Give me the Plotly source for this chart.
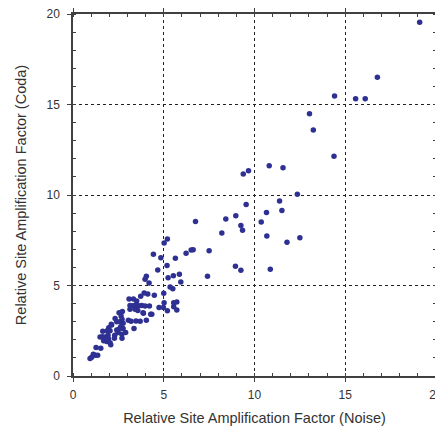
import plotly.graph_objects as go

noise = [19.1, 16.77, 14.41, 15.57, 16.1, 13.03, 13.24, 14.38, 10.81, 11.57, 12.36, 11.38, 10.66, 11.51, 10.37, 10.68, 12.5, 11.79, 10.87,
         9.38, 9.67, 9.54, 8.97, 8.42, 9.25, 9.34, 6.75, 8.2, 5.2, 5.02, 4.43, 4.84, 5.64, 6.23, 6.51, 6.62, 7.5, 5.18, 4.67, 8.95, 9.25, 7.41,
         4.04, 3.97, 4.19, 5.24, 5.53, 5.86, 5.94, 5.35, 5.5, 5.0, 4.48, 3.92, 4.12, 3.73,
         5.02, 5.55, 5.72, 4.74, 4.98, 5.2, 5.55, 5.72, 4.21, 3.79, 3.86, 4.28, 4.04, 3.09, 3.33, 3.51, 3.14, 3.31, 3.45, 3.62, 3.14, 3.42, 3.57,
         3.05, 3.2, 3.47, 3.7, 3.36, 2.72, 2.54, 2.65, 2.32, 2.7, 2.59, 2.76, 2.63, 2.76, 2.9, 2.54, 2.41, 2.69, 2.7, 2.48, 2.11, 1.97, 2.04,
         1.88, 1.64, 1.62, 1.78, 1.93, 2.3, 2.28, 1.69, 1.86, 2.04, 2.08, 1.95, 1.49, 1.27, 1.53, 1.12, 1.23, 1.03, 0.94, 1.36, 2.13, 2.41,
         4.34, 3.88, 3.97]
coda = [19.54, 16.5, 15.47, 15.32, 15.32, 14.49, 13.59, 12.14, 11.62, 11.51, 10.04, 9.67, 9.04, 9.15, 8.51, 7.73, 7.64, 7.39, 5.9,
        11.16, 11.34, 9.47, 8.86, 8.67, 8.31, 8.05, 8.53, 7.9, 7.57, 7.35, 6.72, 6.54, 6.5, 6.78, 6.96, 6.98, 6.92, 6.11, 5.86, 6.06, 5.84, 5.51,
        5.51, 5.34, 5.14, 5.43, 5.54, 5.62, 5.19, 4.92, 4.82, 4.57, 4.46, 4.59, 4.53, 4.4,
        4.05, 4.05, 4.09, 3.78, 3.78, 3.61, 3.83, 3.65, 3.87, 3.9, 3.5, 3.41, 3.08, 4.25, 4.25, 4.14, 3.9, 3.88, 3.92, 3.88, 3.69, 3.69, 3.62,
        3.08, 3.02, 3.04, 3.02, 2.63, 3.57, 3.5, 3.31, 3.17, 3.13, 3.0, 2.91, 2.72, 2.63, 2.41, 2.6, 2.54, 2.3, 2.08, 2.41, 2.86, 2.67, 2.5,
        2.5, 2.47, 2.17, 2.15, 2.25, 2.25, 2.08, 1.95, 1.9, 1.84, 1.73, 2.06, 2.15, 1.58, 1.53, 1.2, 1.14, 1.03, 0.96, 1.14, 2.82, 3.0,
        3.41, 3.46, 3.87]

x_title = "Relative Site Amplification Factor (Noise)"
y_title = "Relative Site Amplification Factor (Coda)"
tick_vals = [0, 5, 10, 15, 20]
tick_text = ["0", "5", "10", "15", "20"]

fig = go.Figure()
fig.add_trace(go.Scatter(
    x=noise, y=coda, mode="markers",
    marker=dict(color="#2E3192", size=5.5, line=dict(width=0)),
    showlegend=False,
))

axis_common = dict(
    range=[0, 20],
    tickvals=tick_vals, ticktext=tick_text,
    ticks="outside", ticklen=4, tickwidth=1, tickcolor="#404040",
    showline=True, linecolor="#404040", linewidth=1.5, mirror="ticks",
    showgrid=True, gridcolor="#222222", gridwidth=1, griddash="dot",
    zeroline=False, automargin=False, ticklabeloverflow="allow",
    minor=dict(dtick=1, ticks="inside", ticklen=3, tickcolor="#404040", showgrid=False),
    tickfont=dict(family="Liberation Sans, Arial, sans-serif", size=12, color="#333333"),
    title_font=dict(family="Liberation Sans, Arial, sans-serif", size=14.5, color="#333333"),
)

fig.update_xaxes(**axis_common, title_text=x_title, title_standoff=12, ticklabelstandoff=3)
fig.update_yaxes(**axis_common, title_text=y_title, title_standoff=16, ticklabelstandoff=5)

# page body adds an 8px offset; sizes compensate so the plot area lands where the reference has it
fig.update_layout(
    width=435, height=424,
    margin=dict(l=65, r=7, t=6, b=56),
    plot_bgcolor="white", paper_bgcolor="white",
)

fig.write_html("out.html")
